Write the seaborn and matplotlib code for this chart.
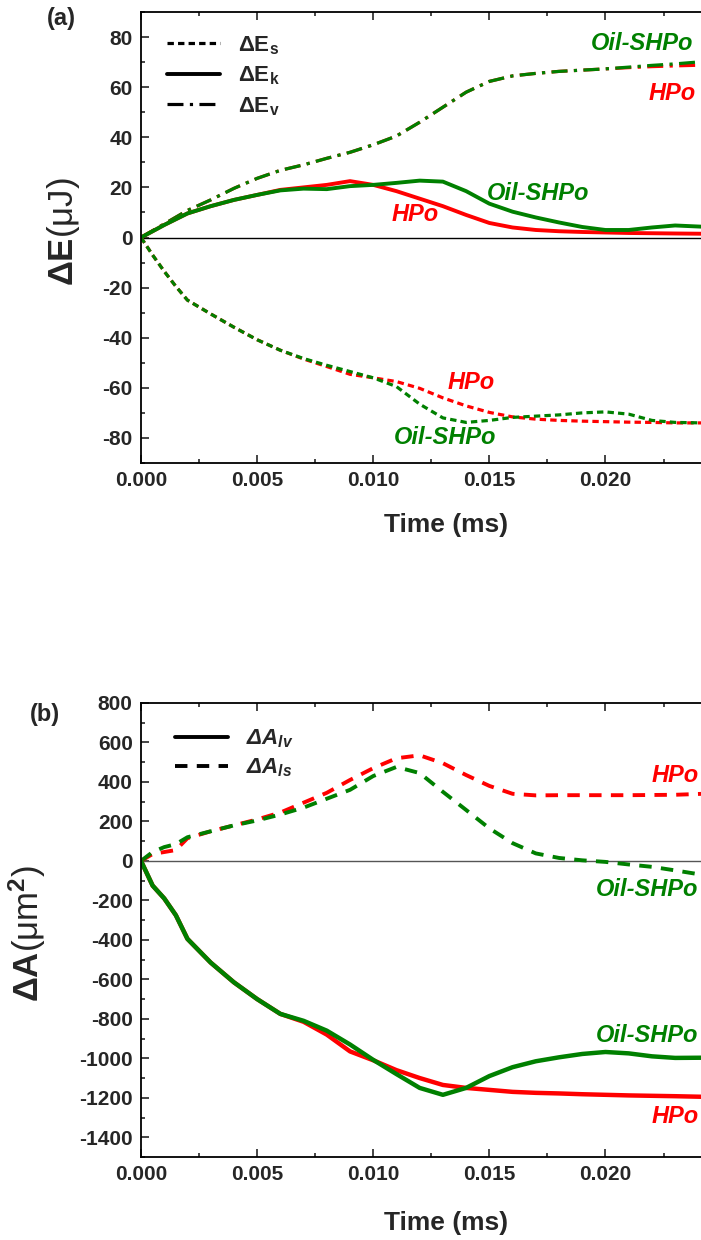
import numpy as np
import pandas as pd
import seaborn as sns
import matplotlib.pyplot as plt
from matplotlib.lines import Line2D
from matplotlib.ticker import MultipleLocator

# =====================================================
# data
# =====================================================

TIME = [0, 0.0005, 0.001, 0.0015, 0.002, 0.003, 0.004, 0.005, 0.006, 0.007,
        0.008, 0.009, 0.010, 0.011, 0.012, 0.013, 0.014, 0.015, 0.016, 0.017,
        0.018, 0.019, 0.020, 0.021, 0.022, 0.023, 0.0242]

# panel (a): energy changes (uJ)
ES_HPO = [0, -7, -13.5, -19.5, -25, -30.5, -35.8, -40.8, -45, -48.5,
          -51.5, -54.6, -56, -57.5, -60.2, -64, -67.2, -69.8, -71.6, -72.5,
          -73, -73.3, -73.5, -73.7, -73.8, -74, -74]
ES_OIL = [0, -7, -13.5, -19.5, -25, -30.5, -35.8, -40.8, -45, -48.3,
          -51, -53.5, -56, -59.5, -66.5, -72, -73.8, -73, -71.8, -71.3,
          -70.8, -70, -69.6, -70.5, -73, -73.8, -74]
EK_HPO = [0, 2.5, 5, 7.3, 9.6, 12.5, 15, 17, 19, 20,
          21, 22.5, 21, 18.5, 15.5, 12.5, 9, 5.8, 4, 3,
          2.5, 2.2, 2, 1.8, 1.7, 1.6, 1.5]
EK_OIL = [0, 2.5, 5, 7.3, 9.6, 12.5, 15, 17, 18.8, 19.5,
          19.3, 20.5, 21, 21.8, 22.7, 22.3, 18.5, 13.5, 10.3, 8,
          6, 4.2, 3, 3, 4, 4.8, 4.3]
EV_HPO = [0, 2.7, 5.4, 8.1, 10.8, 15, 19.6, 23.6, 26.8, 29,
          31.6, 34, 37, 40.5, 46, 52, 58, 62.3, 64.5, 65.5,
          66.3, 66.8, 67.3, 67.8, 68.2, 68.5, 68.8]
EV_OIL = [0, 2.7, 5.4, 8.1, 10.8, 15, 19.6, 23.6, 26.8, 29,
          31.6, 34, 37, 40.5, 46, 52, 58, 62.3, 64.5, 65.5,
          66.3, 66.8, 67.3, 68, 68.7, 69.3, 70.2]

# panel (b): area changes (um^2)
ALV_HPO = [0, -125, -190, -275, -395, -515, -615, -700, -775, -815,
           -880, -965, -1010, -1060, -1100, -1135, -1150, -1160, -1170, -1175,
           -1178, -1182, -1185, -1188, -1190, -1192, -1195]
ALV_OIL = [0, -125, -190, -275, -395, -515, -615, -700, -775, -810,
           -860, -930, -1008, -1080, -1150, -1185, -1150, -1090, -1045, -1015,
           -995, -978, -968, -975, -990, -998, -997]
ALS_HPO = [0, 35, 45, 55, 115, 150, 180, 210, 245, 295,
           345, 410, 470, 520, 535, 495, 435, 380, 340, 332,
           333, 333, 333, 333, 334, 335, 340]
ALS_OIL = [0, 45, 70, 85, 120, 150, 180, 205, 235, 270,
           315, 360, 430, 476, 445, 350, 258, 165, 90, 38,
           15, 3, -5, -18, -30, -48, -71]

RED = "#FF0000"
GREEN = "#008000"

# =====================================================
# style
# =====================================================

sns.set_theme(style="ticks")
plt.rcParams["font.family"] = ["Liberation Sans", "DejaVu Sans"]
plt.rcParams["font.weight"] = "bold"
plt.rcParams["axes.unicode_minus"] = False
plt.rcParams["mathtext.fontset"] = "custom"
plt.rcParams["mathtext.rm"] = "Liberation Sans"
plt.rcParams["mathtext.bf"] = "Liberation Sans:bold"
plt.rcParams["mathtext.it"] = "Liberation Sans:italic"
plt.rcParams["mathtext.bfit"] = "Liberation Sans:bold:italic"

DOT = (0, (2, 1.3))
DASHDOT = (0, (5, 2, 1, 2))
DASH = (0, (3.2, 2.4))

fig = plt.figure(figsize=(7.01, 12.40), dpi=100)
ax_a = fig.add_axes([141 / 701, 1 - 463 / 1240, 562 / 701, 451 / 1240])
ax_b = fig.add_axes([141 / 701, 1 - 1157 / 1240, 562 / 701, 454 / 1240])


def draw(ax, y, color, ls, lw):
    df = pd.DataFrame({"t": TIME, "v": y})
    sns.lineplot(data=df, x="t", y="v", ax=ax, color=color, linestyle=ls,
                 linewidth=lw, sort=False, estimator=None, legend=False)


def style_axis(ax, ymaj, ymin, ylim):
    ax.set_xlim(0, 0.0242)
    ax.set_ylim(*ylim)
    ax.xaxis.set_major_locator(MultipleLocator(0.005))
    ax.xaxis.set_minor_locator(MultipleLocator(0.0025))
    ax.yaxis.set_major_locator(MultipleLocator(ymaj))
    ax.yaxis.set_minor_locator(MultipleLocator(ymin))
    ax.xaxis.set_major_formatter(plt.FuncFormatter(lambda v, p: f"{v:.3f}"))
    ax.tick_params(which="both", direction="in", top=True, width=1.2)
    ax.tick_params(which="major", length=6, labelsize=15, pad=6)
    ax.tick_params(which="minor", length=3)
    for lab in ax.get_xticklabels() + ax.get_yticklabels():
        lab.set_fontweight("bold")
    for s in ["left", "bottom", "top"]:
        ax.spines[s].set_linewidth(1.3)
        ax.spines[s].set_color("black")
    ax.spines["right"].set_visible(False)
    ax.set_xlabel("Time (ms)", fontsize=19, fontweight="bold")


# =====================================================
# (a)
# =====================================================

ax_a.axhline(0, color="black", lw=1)
draw(ax_a, ES_HPO, RED, DOT, 2.3)
draw(ax_a, ES_OIL, GREEN, DOT, 2.3)
draw(ax_a, EV_HPO, RED, DASHDOT, 2.3)
draw(ax_a, EV_OIL, GREEN, DASHDOT, 2.3)
draw(ax_a, EK_HPO, RED, "-", 2.8)
draw(ax_a, EK_OIL, GREEN, "-", 2.8)

style_axis(ax_a, 20, 10, (-90, 90))
ax_a.set_ylabel(r"$\mathbf{ΔE}$(μJ)", fontsize=25, fontweight="normal")
ax_a.yaxis.set_label_coords(-0.105, 0.512)
ax_a.xaxis.set_label_coords(0.543, -0.11)

handles_a = [Line2D([], [], color="black", lw=2.3, linestyle=DOT),
             Line2D([], [], color="black", lw=2.8, linestyle="-"),
             Line2D([], [], color="black", lw=2.3, linestyle=DASHDOT)]
labels_a = [r"$\mathbf{ΔE_s}$", r"$\mathbf{ΔE_k}$", r"$\mathbf{ΔE_v}$"]
ax_a.legend(handles_a, labels_a, loc="upper left", frameon=False,
            fontsize=16, handlelength=2.4, labelspacing=0.35,
            bbox_to_anchor=(0.01, 0.995))

txt = dict(fontsize=17, fontweight="bold", fontstyle="italic", va="center")
ax_a.text(0.0238, 77.6, "Oil-SHPo", color=GREEN, ha="right", **txt)
ax_a.text(0.0239, 57.6, "HPo", color=RED, ha="right", **txt)
ax_a.text(0.0149, 17.6, "Oil-SHPo", color=GREEN, ha="left", **txt)
ax_a.text(0.0108, 9.2, "HPo", color=RED, ha="left", **txt)
ax_a.text(0.0132, -58, "HPo", color=RED, ha="left", **txt)
ax_a.text(0.0109, -80, "Oil-SHPo", color=GREEN, ha="left", **txt)

fig.text(47 / 701, 1 - 18 / 1240, "(a)", fontsize=17, fontweight="bold",
         va="center")

# =====================================================
# (b)
# =====================================================

ax_b.axhline(0, color="#555555", lw=1)
draw(ax_b, ALS_HPO, RED, DASH, 2.8)
draw(ax_b, ALS_OIL, GREEN, DASH, 2.8)
draw(ax_b, ALV_HPO, RED, "-", 3.2)
draw(ax_b, ALV_OIL, GREEN, "-", 3.2)

style_axis(ax_b, 200, 100, (-1500, 800))
ax_b.set_ylabel(r"$\mathbf{ΔA}$(μm$^2$)", fontsize=25, fontweight="normal")
ax_b.yaxis.set_label_coords(-0.165, 0.493)
ax_b.xaxis.set_label_coords(0.543, -0.118)

handles_b = [Line2D([], [], color="black", lw=2.8, linestyle="-"),
             Line2D([], [], color="black", lw=2.8, linestyle=DASH)]
labels_b = [r"$\mathbfit{ΔA_{lv}}$", r"$\mathbfit{ΔA_{ls}}$"]
ax_b.legend(handles_b, labels_b, loc="upper left", frameon=False,
            fontsize=16, handlelength=2.4, labelspacing=0.3,
            bbox_to_anchor=(0.025, 0.99))

ax_b.text(0.0240, 435, "HPo", color=RED, ha="right", **txt)
ax_b.text(0.0240, -147, "Oil-SHPo", color=GREEN, ha="right", **txt)
ax_b.text(0.0240, -886, "Oil-SHPo", color=GREEN, ha="right", **txt)
ax_b.text(0.0240, -1296, "HPo", color=RED, ha="right", **txt)

fig.text(30 / 701, 1 - 714 / 1240, "(b)", fontsize=17, fontweight="bold",
         va="center")

fig.savefig("out.png", dpi=100)
